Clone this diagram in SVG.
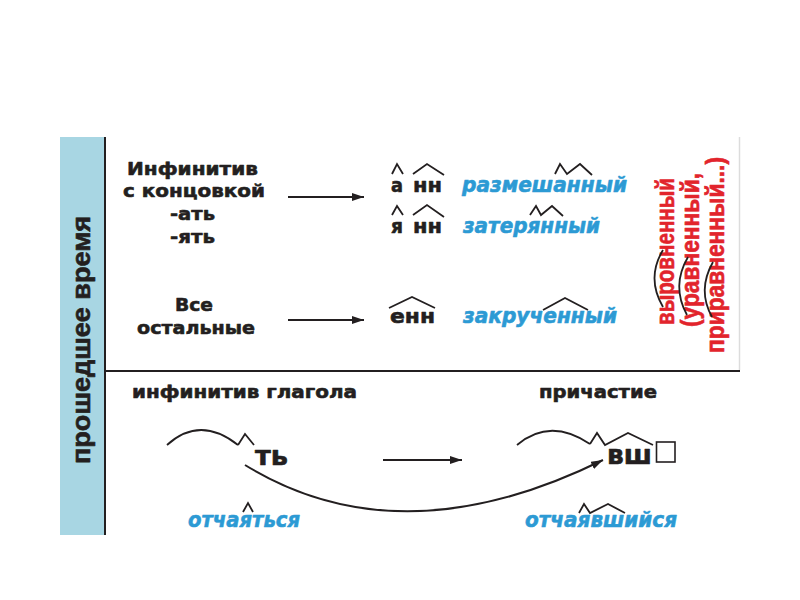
<svg xmlns="http://www.w3.org/2000/svg" width="800" height="600" viewBox="0 0 800 600">
<defs>
<style>
.k{font-family:"DejaVu Sans","Liberation Sans",sans-serif;font-weight:bold;fill:#231f20;stroke:#231f20;stroke-width:0.6;stroke-linejoin:round}
.b{font-family:"DejaVu Sans","Liberation Sans",sans-serif;font-weight:bold;font-style:italic;fill:#2c9ad4;stroke:#2c9ad4;stroke-width:0.6;stroke-linejoin:round}
.r{font-family:"Liberation Sans",Arial,sans-serif;font-weight:bold;fill:#e2242c;stroke:#e2242c;stroke-width:0.6;stroke-linejoin:round}
.s{font-family:"Liberation Sans",Arial,sans-serif;font-weight:bold;fill:#231f20;stroke:#231f20;stroke-width:0.6;stroke-linejoin:round}
.m{fill:none;stroke:#231f20;stroke-width:1.8;stroke-linejoin:miter}
.c{fill:none;stroke:#231f20;stroke-width:2}
</style>
<marker id="ah" viewBox="0 0 12 8" refX="12" refY="4" markerWidth="12" markerHeight="8" markerUnits="userSpaceOnUse" orient="auto">
<path d="M0,0 L12,4 L0,8 z" fill="#231f20"/>
</marker>
</defs>
<rect width="800" height="600" fill="#ffffff"/>

<g id="frame">
<rect x="60" y="137" width="44" height="398" fill="#a8d6e3"/>
<line x1="105" y1="137" x2="105" y2="535" stroke="#231f20" stroke-width="2"/>
<line x1="105" y1="371" x2="740" y2="371" stroke="#231f20" stroke-width="2"/>
<line x1="739.5" y1="137" x2="739.5" y2="370" stroke="#dcdcdc" stroke-width="1.5"/>
</g>

<g id="side-label">
<text class="s" font-size="26" transform="translate(90,340) rotate(-90)" x="-124" y="0" textLength="248" lengthAdjust="spacingAndGlyphs">прошедшее время</text>
</g>

<g id="node-inf-at">
<text class="k" font-size="18.5" x="127" y="175" textLength="131" lengthAdjust="spacingAndGlyphs">Инфинитив</text>
<text class="k" font-size="18.5" x="123" y="197" textLength="142" lengthAdjust="spacingAndGlyphs">с концовкой</text>
<text class="k" font-size="18.5" x="170" y="220" textLength="45" lengthAdjust="spacingAndGlyphs">-ать</text>
<text class="k" font-size="18.5" x="170" y="243" textLength="45" lengthAdjust="spacingAndGlyphs">-ять</text>
</g>

<g id="node-other">
<text class="k" font-size="18.5" x="175" y="311" textLength="38" lengthAdjust="spacingAndGlyphs">Все</text>
<text class="k" font-size="18.5" x="137" y="334" textLength="118" lengthAdjust="spacingAndGlyphs">остальные</text>
</g>

<g id="node-a-nn">
<text class="k" font-size="20" x="391" y="192" textLength="12" lengthAdjust="spacingAndGlyphs">а</text>
<text class="k" font-size="20" x="413" y="192" textLength="29" lengthAdjust="spacingAndGlyphs">нн</text>
<polyline class="m" points="392,174 397,164 403,174"/>
<polyline class="m" points="413,174 427,164 444,175"/>
<text class="b" font-size="21" x="462" y="192" textLength="165" lengthAdjust="spacingAndGlyphs">размешанный</text>
<polyline class="m" points="555,174 560,164 567,174 580,164 592,175"/>
</g>

<g id="node-ya-nn">
<text class="k" font-size="20" x="391" y="233" textLength="12" lengthAdjust="spacingAndGlyphs">я</text>
<text class="k" font-size="20" x="413" y="233" textLength="29" lengthAdjust="spacingAndGlyphs">нн</text>
<polyline class="m" points="392,215 397,206 403,215"/>
<polyline class="m" points="413,215 427,205 444,217"/>
<text class="b" font-size="21" x="463" y="233" textLength="137" lengthAdjust="spacingAndGlyphs">затерянный</text>
<polyline class="m" points="530,215 536,206 541,215 552,206 563,216"/>
</g>

<g id="node-enn">
<text class="k" font-size="20" x="390" y="323" textLength="45" lengthAdjust="spacingAndGlyphs">енн</text>
<polyline class="m" points="389,308 412,297 435,308"/>
<text class="b" font-size="21" x="463" y="323" textLength="154" lengthAdjust="spacingAndGlyphs">закрученный</text>
<polyline class="m" points="543,310 565,298 588,310"/>
</g>

<g id="node-exceptions">
<text class="r" font-size="26" transform="translate(674,251.5) rotate(-90)" x="-73.5" y="0" textLength="147" lengthAdjust="spacingAndGlyphs">выровненный</text>
<text class="r" font-size="26" transform="translate(699,250) rotate(-90)" x="-77" y="0" textLength="154" lengthAdjust="spacingAndGlyphs">(уравненный,</text>
<text class="r" font-size="26" transform="translate(724,255) rotate(-90)" x="-98" y="0" textLength="196" lengthAdjust="spacingAndGlyphs">приравненный...)</text>
<path class="m" d="M663,250 Q646,278 663,307"/>
<path class="m" d="M688,257 Q671,286 687,315"/>
<path class="m" d="M713,262 Q697,290 712,317"/>
</g>

<g id="node-infinitive">
<text class="k" font-size="18.5" x="132" y="398" textLength="225" lengthAdjust="spacingAndGlyphs">инфинитив глагола</text>
<path class="m" d="M167,445 Q200,415 238,445"/>
<polyline class="m" points="238,445 245,434 254,445"/>
<text class="k" font-size="26" x="255" y="465" textLength="33" lengthAdjust="spacingAndGlyphs">ть</text>
<text class="b" font-size="22" x="188" y="527" textLength="112" lengthAdjust="spacingAndGlyphs">отчаяться</text>
<polyline class="m" points="243,512 248,503 253,512"/>
</g>

<g id="node-participle">
<text class="k" font-size="18.5" x="539" y="398" textLength="118" lengthAdjust="spacingAndGlyphs">причастие</text>
<path class="m" d="M517,445 Q550,417 590,444"/>
<polyline class="m" points="590,444 597,433 605,445 628,433 653,445"/>
<text class="k" font-size="26" x="607" y="464" textLength="45" lengthAdjust="spacingAndGlyphs">вш</text>
<rect x="656.5" y="442" width="18.5" height="20" fill="none" stroke="#231f20" stroke-width="1.6"/>
<text class="b" font-size="22" x="525" y="527" textLength="152" lengthAdjust="spacingAndGlyphs">отчаявшийся</text>
<polyline class="m" points="579,513 584,504 590,513 608,504 625,513"/>
</g>

<g id="connectors">
<line class="c" x1="288" y1="197" x2="364" y2="197" marker-end="url(#ah)"/>
<line class="c" x1="288" y1="320" x2="364" y2="320" marker-end="url(#ah)"/>
<line class="c" x1="383" y1="460" x2="462" y2="460" marker-end="url(#ah)"/>
<path class="c" d="M245,465 Q400,560 603,460" marker-end="url(#ah)"/>
</g>
</svg>
